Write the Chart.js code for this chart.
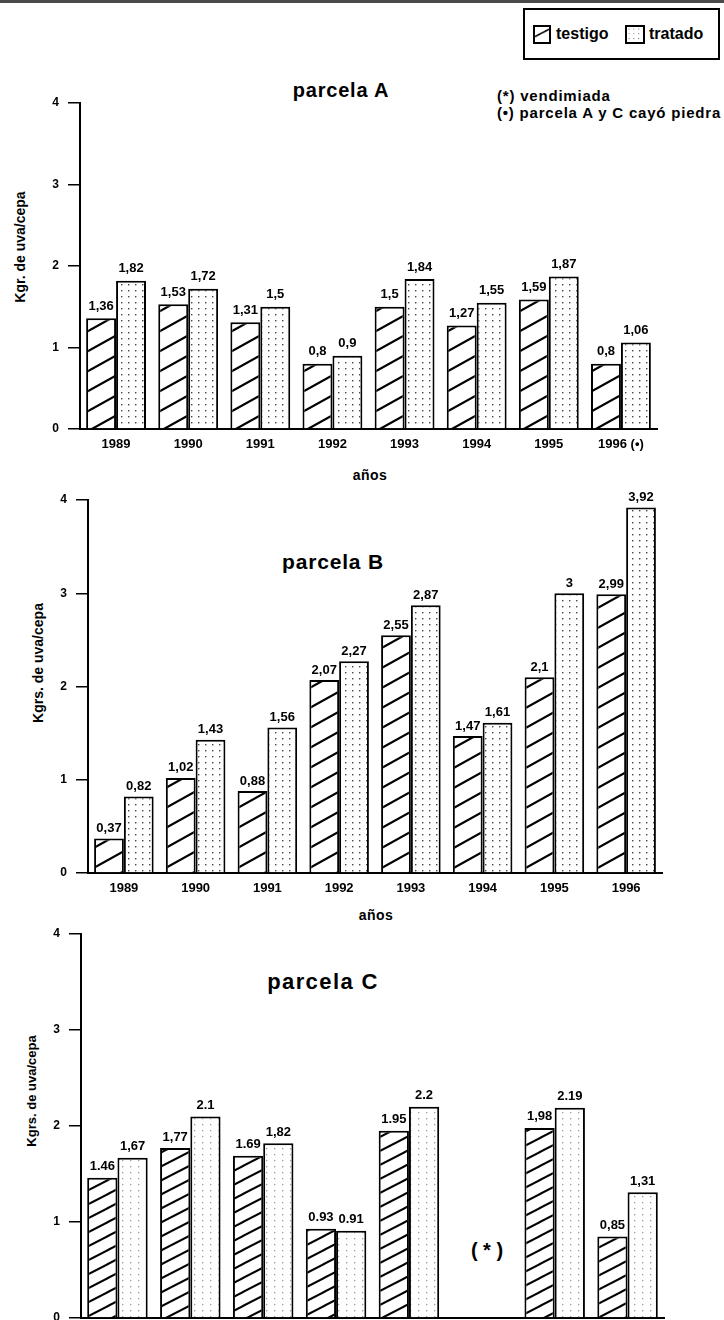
<!DOCTYPE html>
<html>
<head>
<meta charset="utf-8">
<script src="https://cdn.jsdelivr.net/npm/chart.js@4.4.1/dist/chart.umd.min.js"></script>
<style>
  html, body { margin: 0; padding: 0; background: #fff; }
  body { width: 724px; height: 1320px; position: relative; overflow: hidden;
         font-family: "Liberation Sans", Arial, sans-serif; font-weight: bold; color: #000; }
  .topline { position: absolute; left: 0; top: 0; width: 724px; height: 3px; background: #4a4a4a; }
  canvas.cv { position: absolute; left: 0; }
  .t { position: absolute; white-space: nowrap; transform: translate(-50%, -50%); }
  .l { position: absolute; white-space: nowrap; transform: translateY(-50%); }
  .ytitle { position: absolute; white-space: nowrap; transform: translate(-50%, -50%) rotate(-90deg); }
  .legend { position: absolute; left: 523px; top: 8px; width: 197px; height: 52px;
            border: 2px solid #000; box-sizing: border-box; }
  .sw { position: absolute; top: 15px; width: 18px; height: 19px; border: 2px solid #000; box-sizing: border-box; }
</style>
</head>
<body>
<div class="topline"></div>

<div class="legend">
  <canvas id="swT" class="sw" width="18" height="19" style="left:8px"></canvas>
  <span class="l" style="left:31px; top:24px; font-size:16px;">testigo</span>
  <canvas id="swD" class="sw" width="20" height="19" style="left:100px; width:20px"></canvas>
  <span class="l" style="left:124px; top:24px; font-size:16px;">tratado</span>
</div>

<div class="l" style="left:497px; top:95px; font-size:15px; letter-spacing:0.8px;">(*) vendimiada</div>
<div class="l" style="left:497px; top:112px; font-size:15px; letter-spacing:0.8px;">(•) parcela A y C cayó piedra</div>

<div class="t" style="left:341px; top:90px; font-size:20px; letter-spacing:0.8px;">parcela A</div>
<div class="ytitle" style="left:20px; top:247px; font-size:14px;">Kgr. de uva/cepa</div>
<div class="t" style="left:370px; top:475px; font-size:14px; letter-spacing:0.5px;">años</div>

<div class="t" style="left:333px; top:562px; font-size:21px; letter-spacing:0.8px;">parcela B</div>
<div class="ytitle" style="left:38px; top:663px; font-size:14px;">Kgrs. de uva/cepa</div>
<div class="t" style="left:376px; top:915px; font-size:14px; letter-spacing:0.5px;">años</div>

<div class="t" style="left:323px; top:982px; font-size:22px; letter-spacing:1.4px;">parcela C</div>
<div class="ytitle" style="left:31px; top:1091px; font-size:13px;">Kgrs. de uva/cepa</div>
<div class="t" style="left:487px; top:1250px; font-size:20px;">( * )</div>

<canvas id="chartA" class="cv" width="724" height="460" style="top:0px"></canvas>
<canvas id="chartB" class="cv" width="724" height="440" style="top:460px"></canvas>
<canvas id="chartC" class="cv" width="724" height="450" style="top:900px"></canvas>

<script>
// Harvest per vine (kg/cepa) for three plots, control vs treated, 1989–1996
const years  = ['1989', '1990', '1991', '1992', '1993', '1994', '1995', '1996'];
const yearsA = ['1989', '1990', '1991', '1992', '1993', '1994', '1995', '1996 (•)'];
const yTicks = [0, 1, 2, 3, 4];

const testigoA = [1.36, 1.53, 1.31, 0.8, 1.5, 1.27, 1.59, 0.8];
const tratadoA = [1.82, 1.72, 1.5, 0.9, 1.84, 1.55, 1.87, 1.06];

const testigoB = [0.37, 1.02, 0.88, 2.07, 2.55, 1.47, 2.1, 2.99];
const tratadoB = [0.82, 1.43, 1.56, 2.27, 2.87, 1.61, 3, 3.92];

// 1994 in plot C was not recorded (harvested early)
const testigoC = [1.46, 1.77, 1.69, 0.93, 1.95, null, 1.98, 0.85];
const tratadoC = [1.67, 2.1, 1.82, 0.91, 2.2, null, 2.19, 1.31];

// decimal separators as printed on plot C labels
const sepTestigoC = ['.', ',', '.', '.', '.', '', ',', ','];
const sepTratadoC = [',', '.', ',', '.', '.', '', '.', ','];

const FONT = '"Liberation Sans", Arial, sans-serif';

function hatchPattern(w, h, lw) {
  const c = document.createElement('canvas');
  c.width = w; c.height = h;
  const g = c.getContext('2d');
  g.fillStyle = '#fff'; g.fillRect(0, 0, w, h);
  g.strokeStyle = '#000'; g.lineWidth = lw;
  for (const k of [-1, 0, 1]) {
    g.beginPath();
    g.moveTo(-w, 2 * h + k * h);
    g.lineTo(2 * w, -h + k * h);
    g.stroke();
  }
  return g.createPattern(c, 'repeat');
}

function dotPattern(w, h, color, size) {
  const c = document.createElement('canvas');
  c.width = w; c.height = h;
  const g = c.getContext('2d');
  g.fillStyle = '#fff'; g.fillRect(0, 0, w, h);
  g.fillStyle = color;
  g.fillRect(2, 2, size, size);
  return g.createPattern(c, 'repeat');
}

// legend swatches
(function () {
  const a = document.getElementById('swT').getContext('2d');
  a.fillStyle = '#fff'; a.fillRect(0, 0, 18, 19);
  a.strokeStyle = '#000'; a.lineWidth = 2;
  a.beginPath(); a.moveTo(0, 12); a.lineTo(18, 3); a.stroke();
  const b = document.getElementById('swD').getContext('2d');
  b.fillStyle = dotPattern(6, 6, '#666', 1.2); b.fillRect(0, 0, 20, 19);
})();

const valueLabels = {
  id: 'valueLabels',
  afterDatasetsDraw(chart, args, opts) {
    const ctx = chart.ctx;
    ctx.save();
    ctx.fillStyle = '#000';
    ctx.font = 'bold ' + opts.size + 'px ' + FONT;
    ctx.textAlign = 'center';
    ctx.textBaseline = 'middle';
    chart.data.datasets.forEach((ds, di) => {
      const meta = chart.getDatasetMeta(di);
      meta.data.forEach((el, i) => {
        const v = ds.data[i];
        if (v === null || v === undefined) return;
        const sep = ds.seps ? ds.seps[i] : ',';
        const txt = String(v).replace('.', sep);
        ctx.fillText(txt, el.x, el.y - opts.offset);
      });
    });
    ctx.restore();
  }
};

function makeChart(id, cfg) {
  const tickFont = { family: FONT, weight: 'bold', size: 13 };
  return new Chart(document.getElementById(id), {
    type: 'bar',
    data: {
      labels: cfg.labels,
      datasets: [
        { label: 'testigo', data: cfg.testigo, seps: cfg.sepT,
          backgroundColor: cfg.hatch, borderColor: '#000', borderWidth: 2 },
        { label: 'tratado', data: cfg.tratado, seps: cfg.sepD,
          backgroundColor: cfg.dots, borderColor: '#000', borderWidth: 2 }
      ]
    },
    options: {
      responsive: false,
      animation: false,
      events: [],
      layout: { padding: { top: cfg.top, right: cfg.right, left: 0, bottom: 0 } },
      datasets: { bar: { categoryPercentage: 0.83, barPercentage: 1.0 } },
      plugins: {
        legend: { display: false },
        tooltip: { enabled: false },
        valueLabels: { size: 13, offset: cfg.labelOffset }
      },
      scales: {
        x: {
          grid: { display: false, drawTicks: false },
          border: { display: true, color: '#000', width: 2 },
          ticks: { color: '#000', font: tickFont, padding: 8, maxRotation: 0, autoSkip: false },
          afterFit(s) { s.height = cfg.xHeight; }
        },
        y: {
          min: 0, max: 4,
          afterBuildTicks(s) { s.ticks = yTicks.map(v => ({ value: v })); },
          grid: { drawOnChartArea: false, drawTicks: true, tickLength: 12, color: '#000', lineWidth: 1.5 },
          border: { display: true, color: '#000', width: 2 },
          ticks: { color: '#000', font: { family: FONT, weight: 'bold', size: 12 }, padding: 9 },
          afterFit(s) { s.width = cfg.left; }
        }
      }
    },
    plugins: [valueLabels]
  });
}

const hatchAB = hatchPattern(36, 20, 2.2);
const dotsAB = dotPattern(7, 6, '#444', 1.4);

makeChart('chartA', {
  labels: yearsA, testigo: testigoA, tratado: tratadoA,
  hatch: hatchAB, dots: dotsAB,
  top: 103, left: 80, right: 67, xHeight: 31, labelOffset: 12
});

makeChart('chartB', {
  labels: years, testigo: testigoB, tratado: tratadoB,
  hatch: hatchAB, dots: dotsAB,
  top: 40, left: 88, right: 62, xHeight: 27, labelOffset: 10
});

makeChart('chartC', {
  labels: years, testigo: testigoC, tratado: tratadoC,
  sepT: sepTestigoC, sepD: sepTratadoC,
  hatch: hatchPattern(27, 14, 2), dots: dotPattern(8, 6, '#999', 1.3),
  top: 34, left: 81, right: 60, xHeight: 32, labelOffset: 11
});
</script>
</body>
</html>
